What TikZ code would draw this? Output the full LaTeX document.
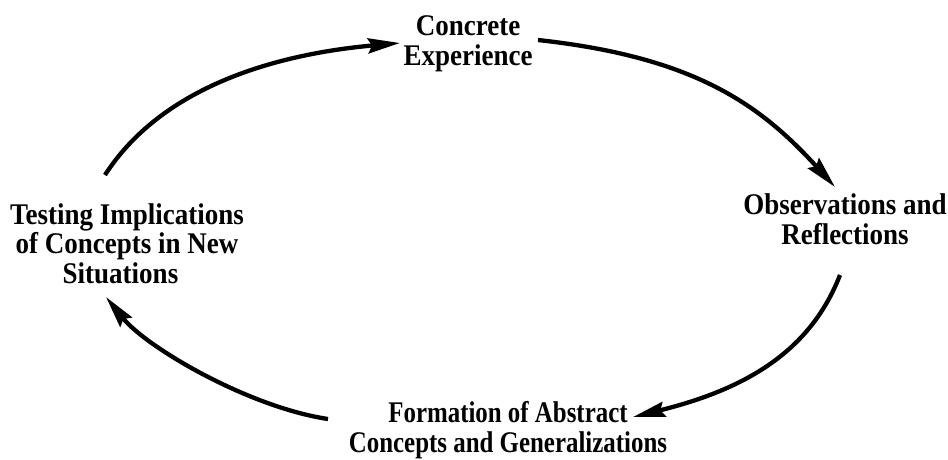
\documentclass[tikz,border=0pt]{standalone}
\usepackage{fontspec}
\setmainfont{Liberation Serif}[FakeStretch=0.9]
\newfontfamily\narrowserif{Liberation Serif}[FakeStretch=0.83]
\usetikzlibrary{arrows.meta}
\begin{document}
\begin{tikzpicture}[x=1pt,y=-1pt,
  lbl/.style={font=\bfseries\fontsize{30}{29.5}\selectfont, align=center, inner sep=0pt, anchor=base},
  arr/.style={line width=4.3pt, -{Stealth[length=32pt,width=15pt,inset=4pt]}}]
\useasboundingbox (0,0) rectangle (948,459);
\node[lbl] (ce) at (468,65) {Concrete\\Experience};
\node[lbl] (or) at (845,244) {Observations and\\Reflections};
\node[lbl] (ti) at (127,283) {Testing Implications\\of Concepts in New\\Situations\hspace*{13pt}};
\node[lbl, font=\narrowserif\bfseries\fontsize{30}{29.5}\selectfont] (fa) at (508,452) {Formation of Abstract\\Concepts and Generalizations};
\coordinate (a1s) at (105,175);
\coordinate (a1e) at (400,43);
\coordinate (a2s) at (538,40);
\coordinate (a2e) at (835,187);
\coordinate (a3s) at (840,275);
\coordinate (a3e) at (633,417);
\coordinate (a4s) at (328,419);
\coordinate (a4e) at (106,297);
\draw[arr] (a1s) .. controls (160.5,88.7) and (271,54.6) .. (a1e);
\draw[arr] (a2s) .. controls (691,56.8) and (758,102) .. (a2e);
\draw[arr] (a3s) .. controls (809,355) and (740,390.5) .. (a3e);
\draw[arr] (a4s) .. controls (248,407) and (146,347) .. (a4e);
\end{tikzpicture}
\end{document}
